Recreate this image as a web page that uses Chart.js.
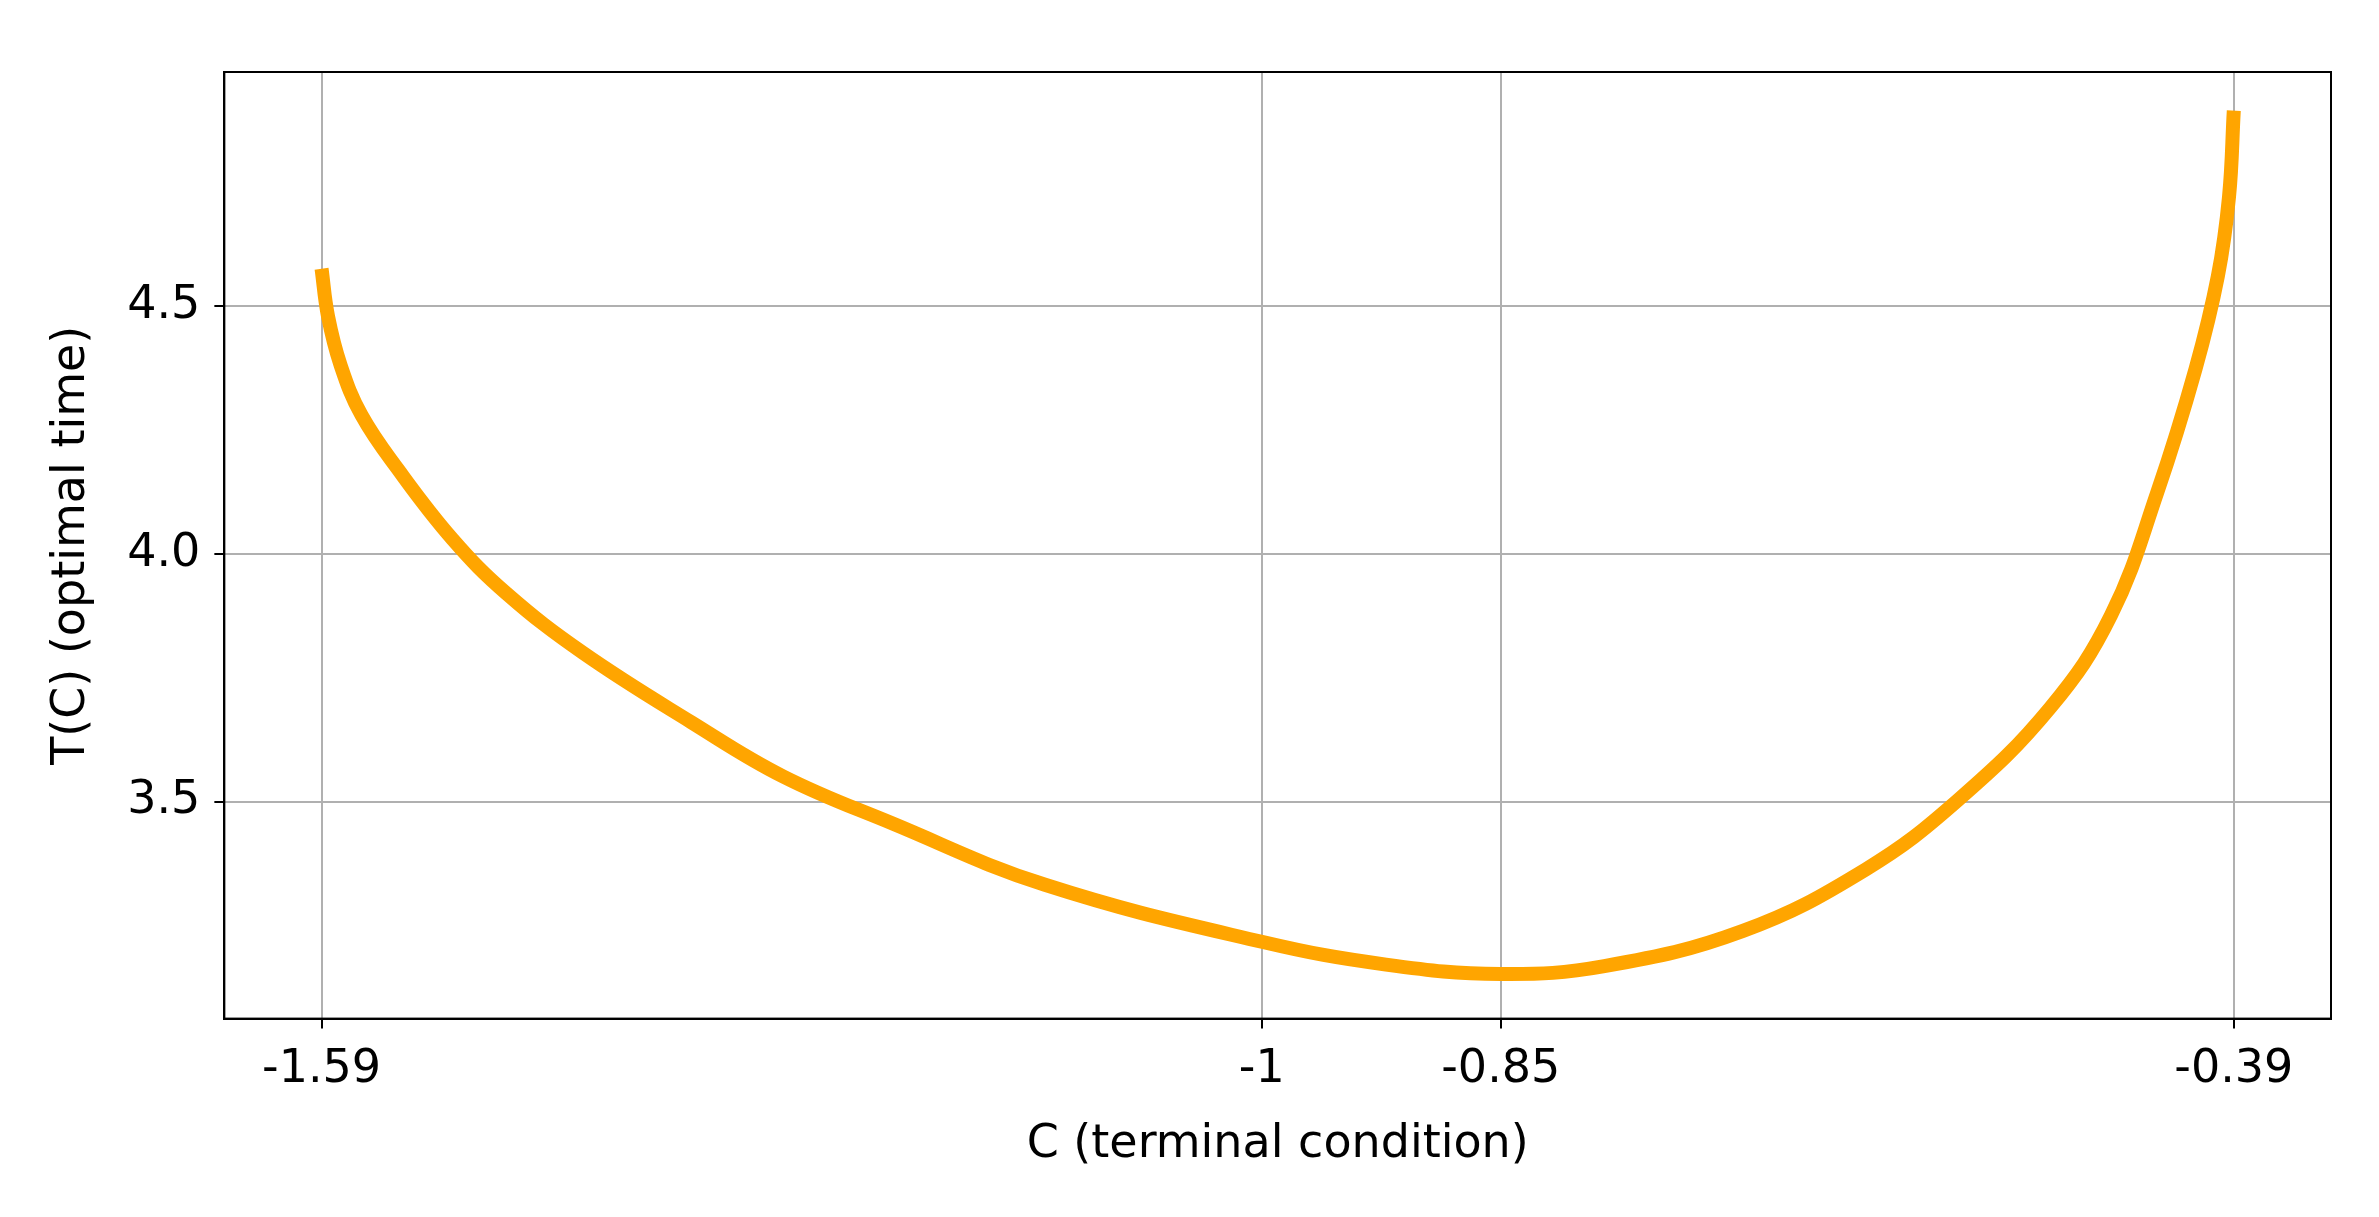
<!DOCTYPE html>
<html><head><meta charset="utf-8">
<script src="https://cdn.jsdelivr.net/npm/chart.js@4"></script>
<style>html,body{margin:0;background:#fff}#w{width:2379px;height:1217px}</style>
</head><body><div id="w"><canvas id="c"></canvas></div>
<script>
const cValues=[-1.59,-1.586,-1.578,-1.565,-1.542,-1.508,-1.474,-1.426,-1.358,-1.300,-1.232,-1.136,-1.0,-0.922,-0.85,-0.785,-0.698,-0.621,-0.563,-0.505,-0.467,-0.438,-0.414,-0.400,-0.393,-0.39];
const tValues=[4.575,4.48,4.38,4.28,4.17,4.03,3.92,3.80,3.66,3.55,3.456,3.332,3.217,3.171,3.152,3.168,3.239,3.363,3.503,3.69,3.876,4.124,4.373,4.56,4.72,4.894];
const xTicks=[-1.59,-1,-0.85,-0.39];
const xTickLabels=['-1.59','-1','-0.85','-0.39'];
const yTicks=[3.5,4.0,4.5];
const font='"DejaVu Sans"';
const pts=cValues.map((x,i)=>({x,y:tValues[i]}));
new Chart(document.getElementById('c'),{
 type:'scatter',
 data:{datasets:[{data:pts,showLine:true,borderColor:'#ffa500',borderWidth:14,pointRadius:0,tension:0.4,fill:false,borderCapStyle:'butt'}]},
 options:{responsive:true,maintainAspectRatio:false,animation:false,
  layout:{padding:{left:40,right:48,top:72,bottom:40}},
  plugins:{legend:{display:false},tooltip:{enabled:false}},
  scales:{
   x:{type:'linear',min:-1.651,max:-0.329,
     afterBuildTicks:s=>{s.ticks=xTicks.map(v=>({value:v}));},
     ticks:{autoSkip:false,maxRotation:0,color:'#000',font:{family:font,size:46},padding:14,callback:(v)=>xTickLabels[xTicks.indexOf(v)]},
     grid:{color:'#b0b0b0',lineWidth:2,drawTicks:true,tickLength:10,tickColor:'#000'},
     border:{color:'#000',width:2},
     title:{display:true,text:'C (terminal condition)',color:'#000',font:{family:font,size:46},padding:{top:6}}},
   y:{min:3.062,max:4.972,
     afterBuildTicks:s=>{s.ticks=yTicks.map(v=>({value:v}));},
     ticks:{color:'#000',font:{family:font,size:46},padding:14,callback:v=>v.toFixed(1)},
     grid:{color:'#b0b0b0',lineWidth:2,tickLength:10,tickColor:'#000'},
     border:{color:'#000',width:2},
     title:{display:true,text:'T(C) (optimal time)',color:'#000',font:{family:font,size:46},padding:{bottom:14}}}
  }},
 plugins:[{id:'frame',afterDraw(ch){const a=ch.chartArea,x=ch.ctx;x.save();x.strokeStyle='#000';x.lineWidth=2;x.strokeRect(a.left,a.top,a.width,a.height);x.restore();}}]
});
</script></body></html>
